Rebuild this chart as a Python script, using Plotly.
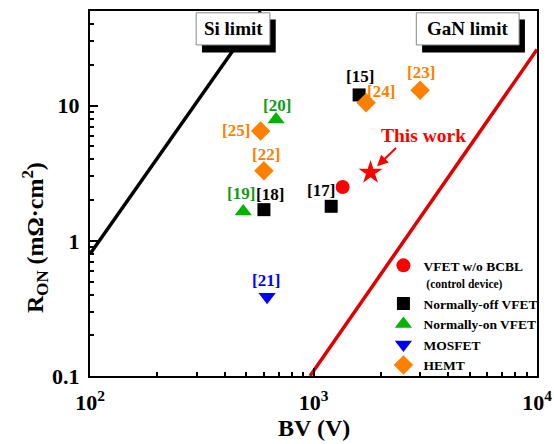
import math
import plotly.graph_objects as go

# ---- data: breakdown voltage (V) vs specific on-resistance (mOhm*cm^2) ----
control_bv = [1350]
control_ron = [2.5]

this_work_bv = [1800]
this_work_ron = [3.2]

normally_off_bv = [1600, 600, 1200]
normally_off_ron = [12, 1.7, 1.8]
normally_off_refs = ["[15]", "[18]", "[17]"]

normally_on_bv = [680, 485]
normally_on_ron = [7.9, 1.65]
normally_on_refs = ["[20]", "[19]"]

mosfet_bv = [620]
mosfet_ron = [0.385]
mosfet_refs = ["[21]"]

hemt_bv = [1720, 3000, 580, 600]
hemt_ron = [10.5, 13, 6.5, 3.3]
hemt_refs = ["[24]", "[23]", "[25]", "[22]"]

si_limit_bv = [100, 580]
si_limit_ron = [0.8, 50]
gan_limit_bv = [965, 10000]
gan_limit_ron = [0.1, 26]

x_tick_vals = [100, 1000, 10000]
x_tick_text = ["10<sup>2</sup>", "10<sup>3</sup>", "10<sup>4</sup>"]
y_tick_vals = [0.1, 1, 10]
y_tick_text = ["0.1", "1", "10"]

# ---- styling ----
FONT = "Liberation Serif"
RED = "#FF0000"
BLACK = "#000000"
GREEN = "#00B400"
GREEN_TXT = "#139A13"
BLUE = "#0000FF"
ORANGE = "#FF8000"

# pixel offsets of the reference labels from their markers
label_shift = {
    "[15]": (1, 18), "[18]": (6, 15), "[17]": (-10, 16),
    "[20]": (1, 14), "[19]": (-2, 18),
    "[21]": (-1, 16),
    "[24]": (15, 11), "[23]": (1, 18), "[25]": (-25, 0), "[22]": (2, 16),
}

fig = go.Figure()

# limit lines
fig.add_trace(go.Scatter(x=si_limit_bv, y=si_limit_ron, mode="lines",
                         line=dict(color=BLACK, width=3.5), showlegend=False,
                         hoverinfo="skip"))
fig.add_trace(go.Scatter(x=gan_limit_bv, y=gan_limit_ron, mode="lines",
                         line=dict(color="#E00000", width=3.5), showlegend=False,
                         hoverinfo="skip"))

# device groups
fig.add_trace(go.Scatter(
    x=control_bv, y=control_ron, mode="markers",
    name="VFET w/o BCBL<br><span style='font-size:11.5px'> (control device)</span>",
    marker=dict(symbol="circle", size=14, color=RED)))
fig.add_trace(go.Scatter(
    x=normally_off_bv, y=normally_off_ron, mode="markers",
    name="Normally-off VFET",
    marker=dict(symbol="square", size=13, color=BLACK)))
fig.add_trace(go.Scatter(
    x=normally_on_bv, y=normally_on_ron, mode="markers",
    name="Normally-on VFET",
    marker=dict(symbol="triangle-up", size=15, color=GREEN)))
fig.add_trace(go.Scatter(
    x=mosfet_bv, y=mosfet_ron, mode="markers",
    name="MOSFET",
    marker=dict(symbol="triangle-down", size=15, color=BLUE)))
fig.add_trace(go.Scatter(
    x=hemt_bv, y=hemt_ron, mode="markers",
    name="HEMT",
    marker=dict(symbol="diamond", size=15, color=ORANGE)))
fig.add_trace(go.Scatter(
    x=this_work_bv, y=this_work_ron, mode="markers", showlegend=False,
    marker=dict(symbol="star", size=18, color=RED)))

annotations = []


def ref_labels(xs, ys, refs, color):
    # annotations on log axes take log10 coordinates
    for x, y, r in zip(xs, ys, refs):
        dx, dy = label_shift[r]
        annotations.append(dict(
            x=math.log10(x), y=math.log10(y), xref="x", yref="y", text=r,
            showarrow=False, xshift=dx, yshift=dy,
            font=dict(family=FONT, size=17, color=color, weight="bold")))


ref_labels(normally_off_bv, normally_off_ron, normally_off_refs, BLACK)
ref_labels(normally_on_bv, normally_on_ron, normally_on_refs, GREEN_TXT)
ref_labels(mosfet_bv, mosfet_ron, mosfet_refs, BLUE)
ref_labels(hemt_bv, hemt_ron, hemt_refs, ORANGE)

# "This work" callout
tw_x = math.log10(this_work_bv[0])
tw_y = math.log10(this_work_ron[0])
annotations.append(dict(
    x=tw_x, y=tw_y, xref="x", yref="y",
    text="This work", showarrow=False, xshift=53, yshift=37,
    font=dict(family=FONT, size=19.5, color=RED, weight="bold")))
annotations.append(dict(
    x=tw_x, y=tw_y, xref="x", yref="y",
    text="", showarrow=True, ax=27, ay=-26, standoff=9,
    arrowhead=2, arrowsize=1.1, arrowwidth=2, arrowcolor=RED))

# limit boxes: black drop shadow, white box, text
shapes = []
for (x0, x1, label) in [(0.2375, 0.4025, "Si limit"), (0.730, 0.960, "GaN limit")]:
    shapes.append(dict(type="rect", xref="paper", yref="paper", layer="above",
                       x0=x0 + 0.013, x1=x1 + 0.013, y0=0.886, y1=0.977,
                       fillcolor=BLACK, line=dict(width=0)))
    shapes.append(dict(type="rect", xref="paper", yref="paper", layer="above",
                       x0=x0, x1=x1, y0=0.907, y1=0.995,
                       fillcolor="white", line=dict(color="#888888", width=1)))
    annotations.append(dict(
        x=(x0 + x1) / 2, y=0.951, xref="paper", yref="paper", text=label,
        showarrow=False, xanchor="center", yanchor="middle",
        font=dict(family=FONT, size=19, color=BLACK, weight="bold")))

# axis titles
annotations.append(dict(
    x=0.5, y=-0.1425, xref="paper", yref="paper", text="BV (V)",
    showarrow=False, xanchor="center", yanchor="middle",
    font=dict(family=FONT, size=24, color=BLACK, weight="bold")))
annotations.append(dict(
    x=-0.1215, y=0.38, xref="paper", yref="paper",
    text="R<sub>ON</sub> (m\u03a9\u00b7cm<sup>2</sup>)",
    showarrow=False, xanchor="center", yanchor="middle", textangle=-90,
    font=dict(family=FONT, size=24, color=BLACK, weight="bold")))

x_minor = [k * 10 ** e for e in (2, 3) for k in range(2, 10)]
y_minor = [k * 10 ** e for e in (-1, 0) for k in range(2, 10)] + [20, 30, 40, 50]

fig.update_layout(
    width=554, height=444,
    margin=dict(l=90, r=16, t=11, b=68),
    paper_bgcolor="white", plot_bgcolor="white",
    font=dict(family=FONT, color=BLACK),
    showlegend=True,
    legend=dict(x=0.655, y=0.345, xanchor="left", yanchor="top",
                bgcolor="rgba(0,0,0,0)", borderwidth=0, valign="top",
                font=dict(family=FONT, size=13.5, color=BLACK, weight="bold"),
                itemwidth=30),
    annotations=annotations,
    shapes=shapes,
)

fig.update_xaxes(
    type="log", range=[2, 4], showgrid=False, zeroline=False, automargin=False,
    showline=True, linecolor=BLACK, linewidth=2, mirror=True,
    ticks="inside", ticklen=8, tickwidth=2, tickcolor=BLACK,
    tickvals=x_tick_vals, ticktext=x_tick_text, ticklabelstandoff=6,
    tickfont=dict(family=FONT, size=22, color=BLACK, weight="bold"),
    minor=dict(ticks="inside", ticklen=4, tickwidth=1.5, tickcolor=BLACK,
               tickvals=x_minor, showgrid=False),
)
fig.update_yaxes(
    type="log", range=[-1, 1.7], showgrid=False, zeroline=False, automargin=False,
    showline=True, linecolor=BLACK, linewidth=2, mirror=True,
    ticks="inside", ticklen=8, tickwidth=2, tickcolor=BLACK,
    tickvals=y_tick_vals, ticktext=y_tick_text, ticklabelstandoff=4,
    tickfont=dict(family=FONT, size=22, color=BLACK, weight="bold"),
    minor=dict(ticks="inside", ticklen=4, tickwidth=1.5, tickcolor=BLACK,
               tickvals=y_minor, showgrid=False),
)

fig.write_html("out.html")
